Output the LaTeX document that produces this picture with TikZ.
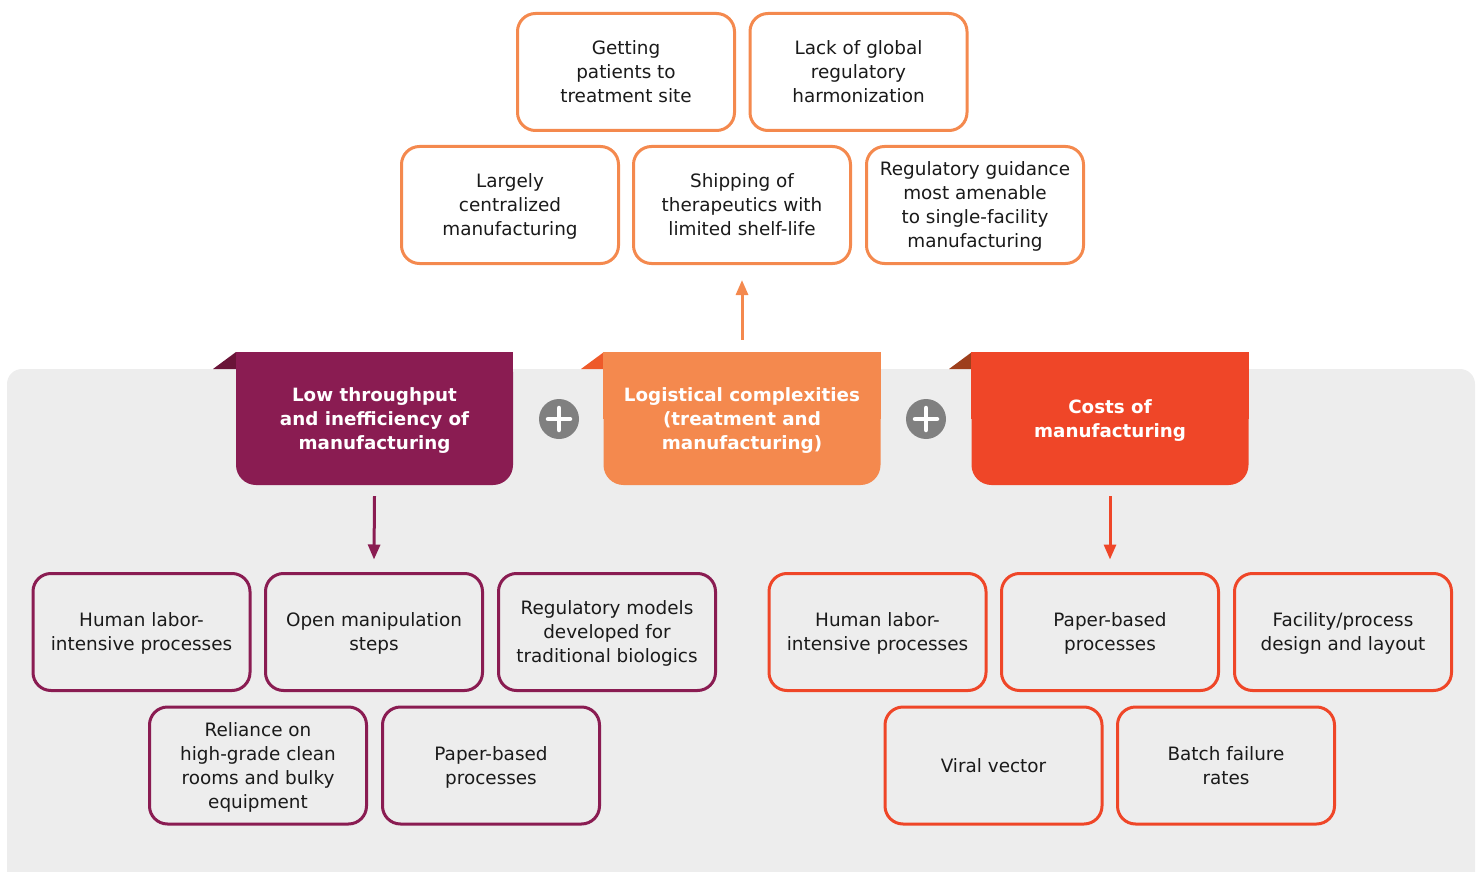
\documentclass[tikz,border=0pt]{standalone}
\usepackage{fontspec}
\setmainfont{DejaVu Sans}
\usetikzlibrary{arrows.meta,calc}
\definecolor{orng}{HTML}{F4894E}
\definecolor{purp}{HTML}{8A1C52}
\definecolor{purpdk}{HTML}{6A1438}
\definecolor{redc}{HTML}{EF4628}
\definecolor{reddk}{HTML}{9E3F1C}
\definecolor{orngdk}{HTML}{EE5A2A}
\definecolor{bggray}{HTML}{EDEDED}
\definecolor{plusgray}{HTML}{808080}
\definecolor{txt}{HTML}{1A1A1A}
\tikzset{
  box/.style={draw, line width=3pt, rounded corners=18pt, minimum width=217pt, minimum height=117pt,
    align=center, text=txt, font=\fontsize{18.4}{24}\selectfont, inner sep=0pt, text depth=0pt},
  topbox/.style={box, draw=orng, fill=white},
  pbox/.style={box, draw=purp},
  rbox/.style={box, draw=redc},
  hdr/.style={rounded corners=20pt, minimum width=277pt, minimum height=133pt, align=center,
    text=white, font=\fontsize{18.3}{24}\selectfont\bfseries, inner sep=0pt},
  arr/.style={line width=3pt, -{Triangle[length=15pt,width=12pt]}},
  plusc/.style={circle, fill=plusgray, minimum size=40pt, inner sep=0pt}
}
\begin{document}
\begin{tikzpicture}[x=1pt,y=-1pt]
\useasboundingbox (0,0) rectangle (1481,872);
% gray background
\fill[bggray, rounded corners=15pt] (7,900) -- (7,369) -- (1475,369) -- (1475,900) -- cycle;

% top boxes
\node[topbox] (t1) at (626,72) {Getting\\patients to\\treatment site};
\node[topbox] (t2) at (858.5,72) {Lack of global\\regulatory\\harmonization};
\node[topbox] (s1) at (510,205) {Largely\\centralized\\manufacturing};
\node[topbox] (s2) at (742,205) {Shipping of\\therapeutics with\\limited shelf-life};
\node[topbox] (s3) at (975,205) {Regulatory guidance\\most amenable\\to single-facility\\manufacturing};

% header folds
\fill[purpdk] (213,369) -- (236,352) -- (236,369) -- cycle;
\fill[orngdk] (581,369) -- (604,352) -- (604,369) -- cycle;
\fill[reddk] (949,369) -- (972,352) -- (972,369) -- cycle;

% headers
\node[hdr, fill=purp] (hP) at (374.5,418.5) {};
\fill[purp] (hP.north west) rectangle (hP.east);
\node[hdr, text depth=0pt] (hPt) at (hP.center) {Low throughput\\and inefficiency of\\manufacturing};

\node[hdr, fill=orng] (hO) at (742,418.5) {};
\fill[orng] (hO.north west) rectangle (hO.east);
\node[hdr, text depth=0pt] (hOt) at (hO.center) {Logistical complexities\\(treatment and\\manufacturing)};

\node[hdr, fill=redc] (hR) at (1110,418.5) {};
\fill[redc] (hR.north west) rectangle (hR.east);
\node[hdr, text depth=0pt] (hRt) at (hR.center) {Costs of\\manufacturing};

% plus signs
\node[plusc] (p1) at (559,419) {};
\node[plusc] (p2) at (926,419) {};
\foreach \p in {p1,p2}{
  \draw[white, line width=4.5pt, line cap=round] ([xshift=-11pt]\p.center) -- ([xshift=11pt]\p.center);
  \draw[white, line width=4.5pt, line cap=round] ([yshift=-11pt]\p.center) -- ([yshift=11pt]\p.center);
}

% bottom boxes purple
\node[pbox] (b1) at (141.5,632) {Human labor-\\intensive processes};
\node[pbox] (b2) at (374,632) {Open manipulation\\steps};
\node[pbox] (b3) at (607,632) {Regulatory models\\developed for\\traditional biologics};
\node[pbox] (b4) at (258,765.5) {Reliance on\\high-grade clean\\rooms and bulky\\equipment};
\node[pbox] (b5) at (491,765.5) {Paper-based\\processes};

% bottom boxes red
\node[rbox] (r1) at (877.5,632) {Human labor-\\intensive processes};
\node[rbox] (r2) at (1110,632) {Paper-based\\processes};
\node[rbox] (r3) at (1343,632) {Facility/process\\design and layout};
\node[rbox] (r4) at (993.5,765.5) {Viral vector};
\node[rbox] (r5) at (1226,765.5) {Batch failure\\rates};

% arrows
\draw[arr, draw=orng] ([yshift=12pt]hO.north) -- ([yshift=-15pt]s2.south);
\draw[arr, draw=purp] ([yshift=-11pt]hP.south) -- ([yshift=12.5pt]b2.north);
\draw[arr, draw=redc] ([yshift=-11pt]hR.south) -- ([yshift=12.5pt]r2.north);
\end{tikzpicture}
\end{document}
